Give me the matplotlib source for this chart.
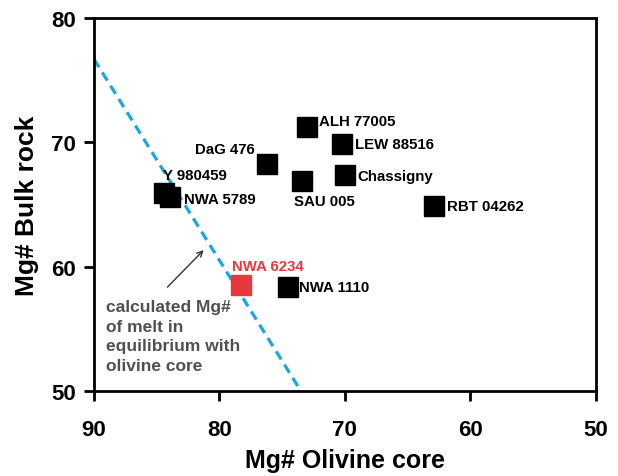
import matplotlib
matplotlib.use("Agg")
import matplotlib.pyplot as plt

plt.rcParams['font.family'] = ['Liberation Sans', 'DejaVu Sans']

names = ["ALH 77005", "LEW 88516", "Chassigny", "SAU 005", "RBT 04262",
         "DaG 476", "Y 980459", "NWA 5789", "NWA 1110", "NWA 6234"]
olivine = [73.0, 70.2, 70.0, 73.4, 62.9, 76.2, 84.4, 83.9, 74.5, 78.3]
bulk = [71.2, 69.9, 67.4, 66.9, 64.9, 68.25, 65.9, 65.6, 58.4, 58.5]
# label offsets in pixels (dx, dy, ha)
offsets = {
    "ALH 77005": (12, 6, "left"),
    "LEW 88516": (13, 0, "left"),
    "Chassigny": (13, -1, "left"),
    "SAU 005": (-8, -20, "left"),
    "RBT 04262": (13, 0, "left"),
    "DaG 476": (-12, 15, "right"),
    "Y 980459": (-1, 18, "left"),
    "NWA 5789": (14, -2, "left"),
    "NWA 1110": (11, 0, "left"),
    "NWA 6234": (-9, 19, "left"),
}
eq_line_x = [90, 73.5]
eq_line_y = [76.7, 50]

fig = plt.figure(figsize=(6.18, 4.77), dpi=100)
ax = fig.add_axes([0.152, 0.178, 0.812, 0.782])

ax.plot(eq_line_x, eq_line_y, color="#1ca6df", lw=2.3, ls=(0, (3.0, 1.9)), zorder=1)

for n, x, y in zip(names, olivine, bulk):
    red = n == "NWA 6234"
    col = "#e8383d" if red else "black"
    ax.plot([x], [y], marker="s", ms=14, color=col, mec=col, ls="none", zorder=3)
    dx, dy, ha = offsets[n]
    ax.annotate(n, (x, y), xytext=(dx, dy), textcoords="offset pixels",
                ha=ha, va="center", fontsize=10.8, fontweight="bold",
                color=col, zorder=4)

ax.annotate("", xy=(81.1, 61.5), xytext=(84.3, 58.2),
            arrowprops=dict(arrowstyle="->", color="#333333", lw=1.0))
ax.text(89.0, 57.4, "calculated Mg#\nof melt in\nequilibrium with\nolivine core",
        fontsize=12.5, fontweight="bold", color="#505050", ha="left", va="top",
        linespacing=1.38)

ax.set_xlim(90, 50)
ax.set_ylim(50, 80)
ax.set_xticks([90, 80, 70, 60, 50])
ax.set_yticks([50, 60, 70, 80])
ax.tick_params(direction="out", length=7, width=2, labelsize=16)
ax.tick_params(axis="x", pad=13)
ax.tick_params(axis="y", pad=6)
for lab in ax.get_xticklabels() + ax.get_yticklabels():
    lab.set_fontweight("bold")
for s in ax.spines.values():
    s.set_linewidth(2)
ax.set_xlabel("Mg# Olivine core", fontsize=18, fontweight="bold", labelpad=6)
ax.set_ylabel("Mg# Bulk rock", fontsize=19, fontweight="bold", labelpad=9)

fig.savefig("out.png", dpi=100)
